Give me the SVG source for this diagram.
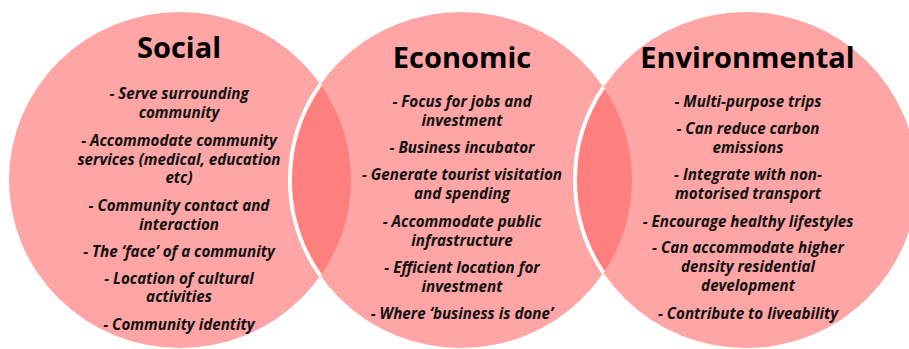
<svg xmlns="http://www.w3.org/2000/svg" width="909" height="349" viewBox="0 0 909 349">
<style>
.c{fill:#FFA5A5;}
.lens{fill:#FF7E7E;}
.edge{fill:none;stroke:#FFFFFF;stroke-width:4;}
.t{font-family:"Open Sans",sans-serif;font-weight:bold;font-size:29px;fill:#000;text-anchor:middle;}
.b{font-family:"Open Sans",sans-serif;font-weight:bold;font-style:italic;font-size:15.2px;fill:#111;text-anchor:middle;}
</style>
<rect width="909" height="349" fill="#FFFFFF"/>
<g id="social">
<ellipse class="c" cx="180" cy="180" rx="171" ry="168"/>
<text class="t" x="179" y="58">Social</text>
<text class="b" x="179" y="99">- Serve surrounding</text>
<text class="b" x="179" y="117.5">community</text>
<text class="b" x="179" y="146">- Accommodate community</text>
<text class="b" x="179" y="164.5">services (medical, education</text>
<text class="b" x="179" y="183">etc)</text>
<text class="b" x="179" y="211">- Community contact and</text>
<text class="b" x="179" y="229.5">interaction</text>
<text class="b" x="179" y="257">- The ‘face’ of a community</text>
<text class="b" x="179" y="283.5">- Location of cultural</text>
<text class="b" x="179" y="302">activities</text>
<text class="b" x="179" y="330">- Community identity</text>
</g>
<g id="economic">
<ellipse class="c" cx="461" cy="180" rx="171" ry="168"/>
<text class="t" x="462" y="68">Economic</text>
<text class="b" x="462" y="107">- Focus for jobs and</text>
<text class="b" x="462" y="126">investment</text>
<text class="b" x="462" y="153">- Business incubator</text>
<text class="b" x="462" y="180">- Generate tourist visitation</text>
<text class="b" x="462" y="199">and spending</text>
<text class="b" x="462" y="227">- Accommodate public</text>
<text class="b" x="462" y="246">infrastructure</text>
<text class="b" x="462" y="273">- Efficient location for</text>
<text class="b" x="462" y="292">investment</text>
<text class="b" x="462" y="319">- Where ‘business is done’</text>
</g>
<g id="environmental">
<ellipse class="c" cx="746" cy="180" rx="171" ry="168"/>
<text class="t" x="747.5" y="68">Environmental</text>
<text class="b" x="748" y="107">- Multi-purpose trips</text>
<text class="b" x="748" y="134">- Can reduce carbon</text>
<text class="b" x="748" y="153">emissions</text>
<text class="b" x="748" y="180">- Integrate with non-</text>
<text class="b" x="748" y="199">motorised transport</text>
<text class="b" x="748" y="227">- Encourage healthy lifestyles</text>
<text class="b" x="748" y="253">- Can accommodate higher</text>
<text class="b" x="748" y="272">density residential</text>
<text class="b" x="748" y="291">development</text>
<text class="b" x="748" y="319">- Contribute to liveability</text>
</g>
<g id="overlaps">
<path class="lens" d="M320.5,84.2 A171,168 0 0 1 320.5,275.8 A171,168 0 0 1 320.5,84.2 Z"/>
<path class="lens" d="M603.5,87.1 A171,168 0 0 1 603.5,272.9 A171,168 0 0 1 603.5,87.1 Z"/>
<path class="edge" d="M320.5,275.8 A171,168 0 0 1 320.5,84.2"/>
<path class="edge" d="M603.5,272.9 A171,168 0 0 1 603.5,87.1"/>
</g>
</svg>
